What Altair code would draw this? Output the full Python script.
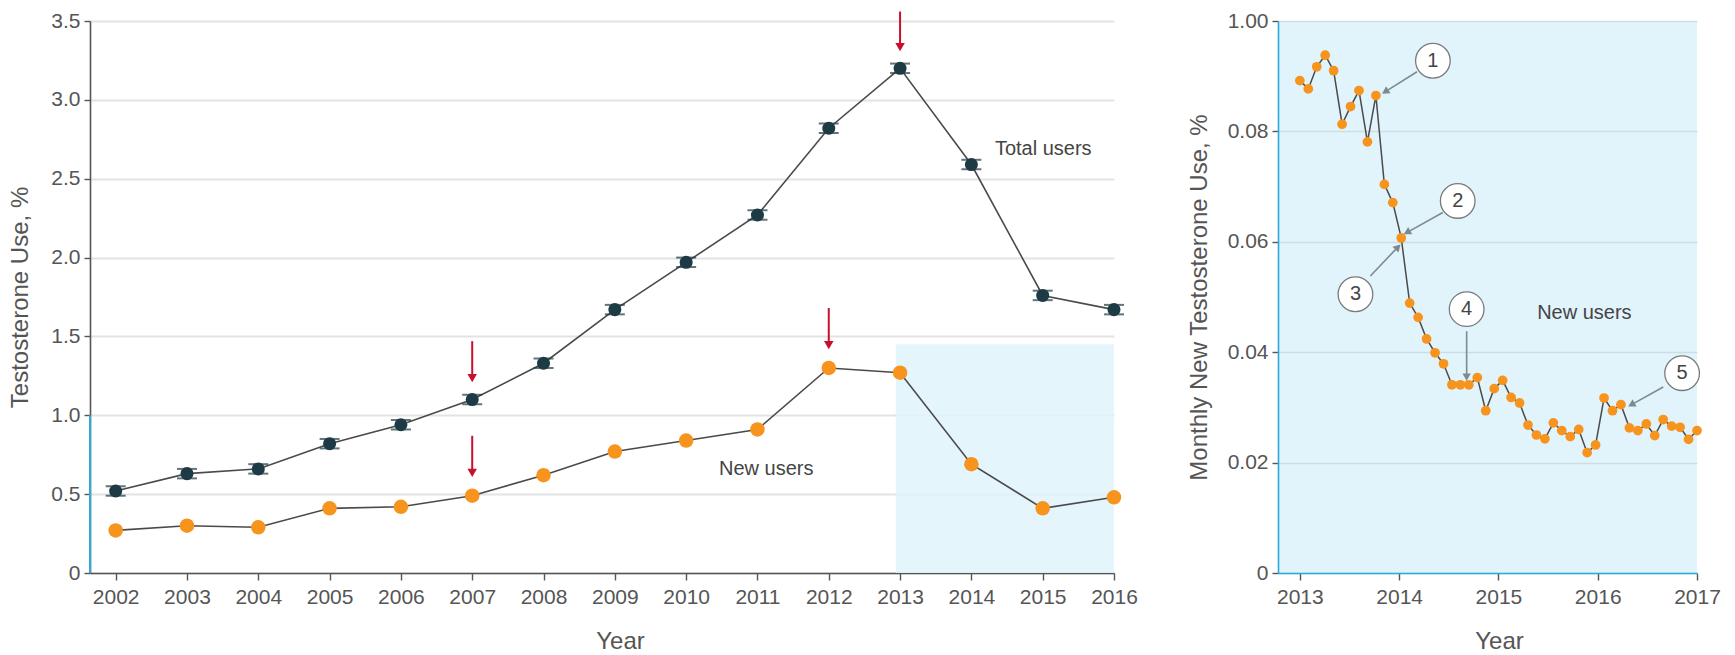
import altair as alt
import pandas as pd

FONT = "Liberation Sans, Arial, sans-serif"

# ---------------- data: left panel ----------------
years = list(range(2002, 2017))
total_users = [0.52, 0.63, 0.66, 0.82, 0.94, 1.10, 1.33, 1.67, 1.97, 2.27, 2.82, 3.20, 2.59, 1.76, 1.67]
total_err = [0.03] * 15
new_users = [0.27, 0.30, 0.29, 0.41, 0.42, 0.49, 0.62, 0.77, 0.84, 0.91, 1.30, 1.27, 0.69, 0.41, 0.48]
left_yticks = [0, 0.5, 1.0, 1.5, 2.0, 2.5, 3.0, 3.5]

# red arrows (year, top value, tip value)
red_x = [2007, 2007, 2012, 2013]
red_top = [1.47, 0.87, 1.68, 3.56]
red_tip = [1.20, 0.60, 1.41, 3.30]

# shaded period (study window)
shade_x0, shade_x1, shade_top = [2012.94], [2016.0], [1.45]

left_labels = ["Total users", "New users"]
left_label_x = [2014.33, 2010.46]
left_label_y = [2.69, 0.66]

# ---------------- data: right panel ----------------
# 48 monthly values, plotted evenly from the 2013 tick to the 2017 tick
monthly_new = [0.0892, 0.0877, 0.0917, 0.0938, 0.0910, 0.0813, 0.0845, 0.0874, 0.0781, 0.0865, 0.0704, 0.0671,
               0.0607, 0.0489, 0.0463, 0.0424, 0.0399, 0.0379, 0.0341, 0.0341, 0.0341, 0.0354, 0.0294, 0.0334,
               0.0349, 0.0318, 0.0308, 0.0268, 0.0250, 0.0243, 0.0272, 0.0258, 0.0247, 0.0260, 0.0218, 0.0232,
               0.0317, 0.0294, 0.0305, 0.0263, 0.0258, 0.0270, 0.0249, 0.0278, 0.0266, 0.0264, 0.0242, 0.0258]
right_xticks = [2013, 2014, 2015, 2016, 2017]
right_yticks = [0, 0.02, 0.04, 0.06, 0.08, 0.10]

circ_label = ["1", "2", "3", "4", "5"]
circ_x = [2014.34, 2014.59, 2013.56, 2014.68, 2016.85]
circ_y = [0.0928, 0.0674, 0.0505, 0.0478, 0.0362]
arr_x0 = [2014.18, 2014.44, 2013.71, 2014.68, 2016.66]
arr_y0 = [0.0908, 0.0653, 0.0538, 0.0438, 0.0337]
arr_x1 = [2013.87, 2014.09, 2013.98, 2014.68, 2016.35]
arr_y1 = [0.0873, 0.0618, 0.0589, 0.0357, 0.0306]
arr_angle = [238, 241, 44, 180, 241]

right_label = ["New users"]
right_label_x = [2015.39]
right_label_y = [0.0471]

# ---------------- styles ----------------
DARK = "#1d3a45"
ORANGE = "#f7941d"
LINE = "#4a4a4a"
RED = "#c8102e"
BLUE = "#29abe2"
LIGHTBLUE = "#e1f3fb"
AXIS = "#555555"

LW, LH = 1024, 552
RW, RH = 419, 552


def LX(field):
    return alt.X(field, type="quantitative",
                 scale=alt.Scale(domain=[2001.64, 2016], nice=False, zero=False),
                 axis=alt.Axis(values=years, format="d", title="Year", grid=False, labelOverlap=False,
                               labelFlush=False, titleX=530, titlePadding=22, labelPadding=6, tickSize=7))


def LY(field):
    return alt.Y(field, type="quantitative",
                 scale=alt.Scale(domain=[0, 3.5], nice=False),
                 axis=alt.Axis(values=left_yticks, title="Testosterone Use, %", labelOverlap=False,
                               labelExpr="datum.value == 0 ? '0' : format(datum.value, '.1f')",
                               titlePadding=18, labelPadding=4, tickSize=6, domainColor=AXIS))


def RX(field):
    return alt.X(field, type="quantitative",
                 scale=alt.Scale(domain=[2012.78, 2017], nice=False, zero=False),
                 axis=alt.Axis(values=right_xticks, format="d", title="Year", grid=False, labelOverlap=False,
                               labelFlush=False, titleX=221, titlePadding=22, labelPadding=6, tickSize=7,
                               domainColor=BLUE))


def RY(field):
    return alt.Y(field, type="quantitative",
                 scale=alt.Scale(domain=[0, 0.10], nice=False),
                 axis=alt.Axis(values=right_yticks, title="Monthly New Testosterone Use, %", labelOverlap=False,
                               labelExpr="datum.value >= 0.099 ? '1.00' : (datum.value == 0 ? '0' : format(datum.value, '.2f'))",
                               titlePadding=16, labelPadding=4, tickSize=6, domainColor=BLUE,
                               gridColor="#cddde5", gridWidth=1.5))


# ---------------- left panel ----------------
df_total = pd.DataFrame({"year": years, "v": total_users,
                         "lo": [a - e for a, e in zip(total_users, total_err)],
                         "hi": [a + e for a, e in zip(total_users, total_err)]})
df_new = pd.DataFrame({"year": years, "v": new_users})
df_shade = pd.DataFrame({"x0": shade_x0, "x1": shade_x1, "top": shade_top, "bot": [0]})
df_red = pd.DataFrame({"year": red_x, "top": red_top, "tip": red_tip,
                       "head": [t + 0.035 for t in red_tip]})
df_ltext = pd.DataFrame({"x": left_label_x, "y": left_label_y, "t": left_labels})
df_blue = pd.DataFrame({"a": [0], "b": [1.0]})

shade = alt.Chart(df_shade).mark_rect(color=LIGHTBLUE, opacity=0.85).encode(
    x=LX("x0"), x2="x1", y=LY("bot"), y2="top")
blue_axis = alt.Chart(df_blue).mark_rule(color=BLUE, strokeWidth=2).encode(
    x=alt.value(0), y=LY("a"), y2="b")
tot_line = alt.Chart(df_total).mark_line(color=LINE, strokeWidth=1.6).encode(x=LX("year"), y=LY("v"))
new_line = alt.Chart(df_new).mark_line(color=LINE, strokeWidth=1.6).encode(x=LX("year"), y=LY("v"))
cap_lo = alt.Chart(df_total).mark_tick(color=DARK, orient="horizontal", size=20, thickness=2).encode(
    x=LX("year"), y=LY("lo"))
cap_hi = alt.Chart(df_total).mark_tick(color=DARK, orient="horizontal", size=20, thickness=2).encode(
    x=LX("year"), y=LY("hi"))
tot_pts = alt.Chart(df_total).mark_point(filled=True, color=DARK, size=170, opacity=1, shape="circle").encode(
    x=LX("year"), y=LY("v"))
new_pts = alt.Chart(df_new).mark_point(filled=True, color=ORANGE, size=210, opacity=1, shape="circle").encode(
    x=LX("year"), y=LY("v"))
red_shaft = alt.Chart(df_red).mark_rule(color=RED, strokeWidth=2).encode(x=LX("year"), y=LY("top"), y2="head")
red_head = alt.Chart(df_red).mark_point(filled=True, color=RED, size=90, opacity=1, shape="triangle-down").encode(
    x=LX("year"), y=LY("head"))
ltext = alt.Chart(df_ltext).mark_text(align="left", baseline="middle", fontSize=20, color="#444", font=FONT).encode(
    x=LX("x"), y=LY("y"), text="t")

left = alt.layer(shade, blue_axis, tot_line, new_line, cap_lo, cap_hi, tot_pts, new_pts,
                 red_shaft, red_head, ltext).properties(width=LW, height=LH)

# ---------------- right panel ----------------
n = len(monthly_new)
df_month = pd.DataFrame({"x": [right_xticks[0] + i * (right_xticks[-1] - right_xticks[0]) / (n - 1) for i in range(n)],
                         "v": monthly_new})
df_circ = pd.DataFrame({"x": circ_x, "y": circ_y, "t": circ_label})
df_arr = pd.DataFrame({"x0": arr_x0, "y0": arr_y0, "x1": arr_x1, "y1": arr_y1, "ang": arr_angle})
df_rtext = pd.DataFrame({"x": right_label_x, "y": right_label_y, "t": right_label})

m_line = alt.Chart(df_month).mark_line(color=LINE, strokeWidth=1.5).encode(x=RX("x"), y=RY("v"))
m_pts = alt.Chart(df_month).mark_point(filled=True, color=ORANGE, size=95, opacity=1).encode(x=RX("x"), y=RY("v"))
arr_line = alt.Chart(df_arr).mark_rule(color="#7f8a90", strokeWidth=1.6).encode(
    x=RX("x0"), y=RY("y0"), x2="x1", y2="y1")
arr_head = alt.Chart(df_arr).mark_point(filled=True, color="#7f8a90", size=70, opacity=1, shape="triangle").encode(
    x=RX("x1"), y=RY("y1"), angle=alt.Angle("ang:Q", scale=None))
circ = alt.Chart(df_circ).mark_point(filled=True, fill="white", stroke="#7a7a7a", strokeWidth=1.3,
                                     size=1200, opacity=1, shape="circle").encode(x=RX("x"), y=RY("y"))
circ_t = alt.Chart(df_circ).mark_text(fontSize=20, color="#444", font=FONT, baseline="middle").encode(
    x=RX("x"), y=RY("y"), text="t")
rtext = alt.Chart(df_rtext).mark_text(align="left", baseline="middle", fontSize=20, color="#444", font=FONT).encode(
    x=RX("x"), y=RY("y"), text="t")

right = alt.layer(m_line, m_pts, arr_line, arr_head, circ, circ_t, rtext).properties(
    width=RW, height=RH, view=alt.ViewBackground(fill=LIGHTBLUE, stroke=None))

chart = alt.hconcat(left, right, spacing=49).properties(
    padding={"left": 8, "top": 10, "right": 5, "bottom": 5}
).configure_axis(
    labelFont=FONT, titleFont=FONT, labelFontSize=21, titleFontSize=24,
    labelColor=AXIS, titleColor=AXIS, tickColor=AXIS, domainColor=AXIS,
    titleFontWeight="normal", gridColor="#e3e3e3", gridWidth=2, domainWidth=1.6, tickWidth=1.4
).configure_view(stroke=None)

chart.save("out.html", embed_options={"renderer": "svg", "actions": False})
